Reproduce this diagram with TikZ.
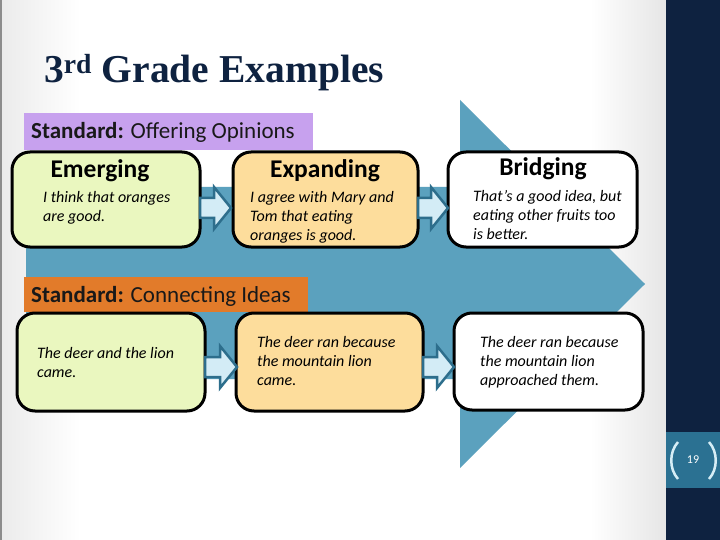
\documentclass[tikz,border=0pt]{standalone}
\usepackage{fontspec}
\setmainfont{Carlito}
\newfontfamily\titlefont{Liberation Serif}
\definecolor{navy}{HTML}{0E2240}
\definecolor{pagebox}{HTML}{2B7192}
\definecolor{bigarrow}{HTML}{5BA1BE}
\definecolor{lavender}{HTML}{C7A1EE}
\definecolor{orangelab}{HTML}{E27B2A}
\definecolor{greenfill}{HTML}{EAF7BF}
\definecolor{orangefill}{HTML}{FDDD9C}
\definecolor{arrfill}{HTML}{D3ECF6}
\definecolor{arrdraw}{HTML}{2D6E8C}
\definecolor{bracket}{HTML}{D6EEF6}
\tikzset{
  stdbox/.style={draw=black, line width=3pt, rounded corners=18pt, inner sep=0pt},
  labelbox/.style={inner sep=0pt, anchor=north west},
  labeltext/.style={inner sep=0pt, anchor=west, font=\fontsize{23}{27}\selectfont, text=black!90},
  boxtitle/.style={inner sep=0pt, font=\bfseries\fontsize{25.5}{29}\selectfont, text=black},
  boxbody/.style={inner sep=0pt, anchor=north west, align=left, font=\itshape\fontsize{16}{19}\selectfont, text=black},
  blockarrow/.style={draw=arrdraw, fill=arrfill, line width=2.5pt, line join=miter}
}
\begin{document}
\begin{tikzpicture}[x=1pt,y=-1pt]
\useasboundingbox (0,0) rectangle (720,540);
% background
\fill[white] (0,0) rectangle (666,540);
\shade[left color=black!8, right color=white] (0,0) rectangle (80,540);
\shade[left color=white, right color=black!10] (590,0) rectangle (666,540);
\draw[black!45, line width=1.5pt] (0.75,0) -- (0.75,540);
\fill[navy] (666,0) rectangle (720,540);
\fill[pagebox] (666,432) rectangle (720,488);
\draw[bracket, line width=2.5pt] (678,442) .. controls (669,452) and (669,469) .. (678,479);
\draw[bracket, line width=2.5pt] (709,442) .. controls (718,452) and (718,469) .. (709,479);
\node[text=white, font=\fontsize{12}{14}\selectfont, inner sep=0pt] (pg) at (693,460) {19};
% title
\node[anchor=base west, inner sep=0pt, text=navy, font=\titlefont\bfseries\fontsize{39.5}{46}\selectfont] (title) at (44,83) {3\textsuperscript{rd} Grade Examples};
% big arrow
\fill[bigarrow] (26,187) -- (460,187) -- (460,100) -- (645,284) -- (460,468) -- (460,379) -- (26,379) -- cycle;
% labels
\node[labelbox, fill=lavender, minimum width=289pt, minimum height=37pt] (lab1) at (24,113) {};
\node[labeltext] (lab1t) at (31,132) {\textbf{Standard:} Offering Opinions};
\node[labelbox, fill=orangelab, minimum width=284pt, minimum height=35pt] (lab2) at (24,277) {};
\node[labeltext] (lab2t) at (31,296) {\textbf{Standard:} Connecting Ideas};
% row 1 boxes
\node[stdbox, fill=greenfill, minimum width=188pt, minimum height=95pt] (e1) at (106,199.5) {};
\node[stdbox, fill=orangefill, minimum width=185pt, minimum height=95pt] (x1) at (325.5,199.5) {};
\node[stdbox, fill=white, minimum width=189pt, minimum height=95pt] (b1) at (542.5,199.5) {};
\node[boxtitle] (e1t) at (100,171) {Emerging};
\node[boxtitle] (x1t) at (325,171) {Expanding};
\node[boxtitle] (b1t) at (543,169) {Bridging};
\node[boxbody] (e1b) at (43,191) {I think that oranges\\are good.};
\node[boxbody] (x1b) at (250,191) {I agree with Mary and\\Tom that eating\\oranges is good.};
\node[boxbody] (b1b) at (473,190.5) {That’s a good idea, but\\eating other fruits too\\is better.};
% row 2 boxes
\node[stdbox, fill=greenfill, minimum width=188pt, minimum height=98pt] (e2) at (111,362) {};
\node[stdbox, fill=orangefill, minimum width=187pt, minimum height=98pt] (x2) at (329.5,362) {};
\node[stdbox, fill=white, minimum width=189pt, minimum height=97pt] (b2) at (548.5,361.5) {};
\node[boxbody] (e2b) at (37,347) {The deer and the lion\\came.};
\node[boxbody] (x2b) at (257,336.5) {The deer ran because\\the mountain lion\\came.};
\node[boxbody] (b2b) at (480,336.5) {The deer ran because\\the mountain lion\\approached them.};
% block arrows
\foreach \xa/\xb/\yc in {200/231/208, 418/448/208, 205/237/367, 423/454/367}{
  \filldraw[blockarrow] ({\xa},{\yc-10}) -- ({\xb-17},{\yc-10}) -- ({\xb-17},{\yc-21}) -- ({\xb},{\yc})
    -- ({\xb-17},{\yc+21}) -- ({\xb-17},{\yc+10}) -- ({\xa},{\yc+10}) -- cycle;
}
\end{tikzpicture}
\end{document}
